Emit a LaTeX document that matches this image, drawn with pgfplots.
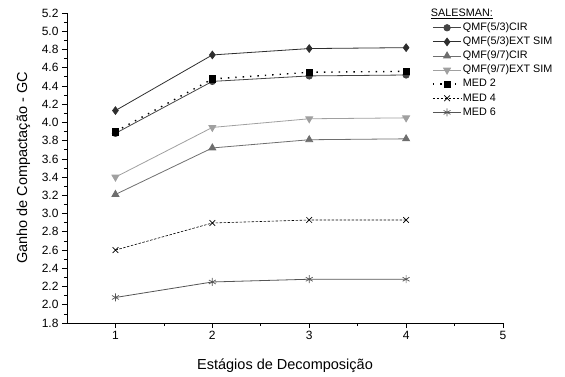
\documentclass[border=0pt]{standalone}
\usepackage{pgfplots}
\pgfplotsset{compat=1.18}
\usepackage{fontspec}
\setmainfont{Liberation Sans}
\definecolor{cCirc}{HTML}{444444}
\definecolor{cDiam}{HTML}{2E2E2E}
\definecolor{cTup}{HTML}{6E6E6E}
\definecolor{cTdn}{HTML}{A0A0A0}
\definecolor{cStar}{HTML}{555555}
\pgfplotsset{longleg/.style={legend image code/.code={\draw[mark repeat=2,mark phase=2] plot coordinates {(0cm,0cm) (0.5cm,0cm) (1cm,0cm)};}}}
\begin{document}
\begin{tikzpicture}
\path[use as bounding box] (-67pt,-53pt) rectangle (498pt,323pt);
\begin{axis}[
  at={(0,0)}, anchor=south west,
  scale only axis, width=436pt, height=310pt,
  xmin=0.5, xmax=5, ymin=1.8, ymax=5.2,
  axis lines=left, axis line style={-, black, line width=0.8pt},
  xtick={1,2,3,4,5}, minor x tick num=1,
  ytick={1.8,2.0,...,5.21}, minor y tick num=1,
  tick align=outside,
  major tick length=5pt, minor tick length=3pt,
  tick style={black, line width=0.7pt},
  /pgf/number format/assume math mode=true,
  yticklabel style={/pgf/number format/.cd, fixed, fixed zerofill, precision=1},
  xticklabel style={/pgf/number format/.cd, fixed, precision=0},
  ticklabel style={font=\fontsize{12}{14}\selectfont},
  xlabel={Estágios de Decomposição},
  ylabel={Ganho de Compactação - GC},
  label style={font=\fontsize{14.5}{16}\selectfont},
  xlabel style={at={(axis description cs:0.5,-0.138)}, anchor=center},
  ylabel style={at={(axis description cs:-0.1,0.5)}, anchor=center},
  legend style={draw=none, fill=none, at={(axis description cs:0.837,1.017)}, anchor=north west,
    font=\fontsize{10.8}{12}\selectfont, row sep=2.6pt, inner sep=0pt,
    nodes={inner sep=1pt, text height=7.5pt, text depth=2pt, font=\fontsize{10.8}{12}\selectfont}},
  legend cell align=left,
]
\addlegendimage{empty legend}
\addlegendentry{\hspace{-32pt}\underline{SALESMAN:}}
\addplot[longleg, cCirc, line width=0.8pt, mark=*, mark size=3.2pt, mark options={solid}]
  coordinates {(1,3.88) (2,4.45) (3,4.51) (4,4.52)};
\addlegendentry{QMF(5/3)CIR}
\addplot[longleg, cDiam, line width=0.8pt, mark=diamond*, mark size=3.8pt, mark options={solid}]
  coordinates {(1,4.13) (2,4.74) (3,4.81) (4,4.82)};
\addlegendentry{QMF(5/3)EXT SIM}
\addplot[longleg, cTup, line width=0.8pt, mark=triangle*, mark size=4pt, mark options={solid}]
  coordinates {(1,3.21) (2,3.72) (3,3.81) (4,3.82)};
\addlegendentry{QMF(9/7)CIR}
\addplot[longleg, cTdn, line width=0.8pt, mark=triangle*, mark size=4pt, mark options={solid, rotate=180}]
  coordinates {(1,3.40) (2,3.945) (3,4.04) (4,4.05)};
\addlegendentry{QMF(9/7)EXT SIM}
\addplot[longleg, black, line width=1.4pt, dash pattern=on 1.4pt off 6pt, mark=square*, mark size=3.3pt, mark options={solid, line width=0.5pt}]
  coordinates {(1,3.90) (2,4.476) (3,4.55) (4,4.56)};
\addlegendentry{MED 2}
\addplot[longleg, black, line width=0.6pt, dash pattern=on 2.5pt off 1.5pt, mark=x, mark size=4pt, mark options={solid, line width=0.7pt}]
  coordinates {(1,2.60) (2,2.897) (3,2.93) (4,2.93)};
\addlegendentry{MED 4}
\addplot[longleg, cStar, line width=0.8pt, mark=asterisk, mark size=4pt, mark options={solid, line width=0.7pt}]
  coordinates {(1,2.08) (2,2.25) (3,2.28) (4,2.28)};
\addlegendentry{MED 6}
\end{axis}
\end{tikzpicture}
\end{document}
